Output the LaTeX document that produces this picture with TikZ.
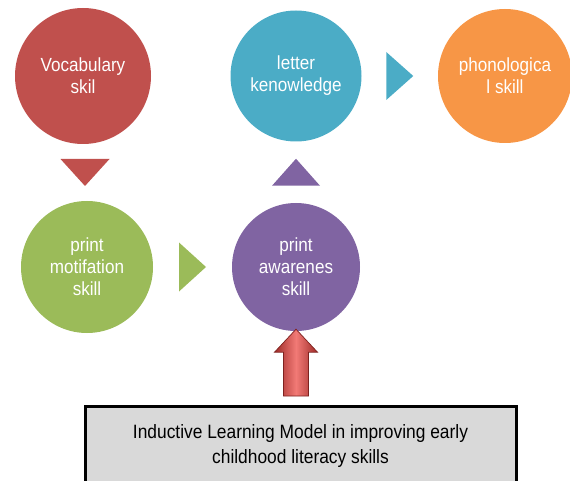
\documentclass[tikz,border=0pt]{standalone}
\usepackage{fontspec}
\setmainfont{Liberation Sans}
\newfontfamily\narrowfont[FakeStretch=0.9]{Liberation Sans}
\usetikzlibrary{calc}
\definecolor{cred}{HTML}{C0504D}
\definecolor{cteal}{HTML}{4BACC6}
\definecolor{corange}{HTML}{F79646}
\definecolor{cgreen}{HTML}{9BBB59}
\definecolor{cpurple}{HTML}{8064A2}
\definecolor{cbox}{HTML}{D9D9D9}
\definecolor{arrdark}{HTML}{9E2A27}
\definecolor{arrlight}{HTML}{F27A76}
\begin{document}
\begin{tikzpicture}[x=1pt,y=-1pt,
  bubble/.style={circle, inner sep=0pt, text=white, align=center,
    font=\narrowfont\fontsize{19}{22}\selectfont},
  infobox/.style={draw=black, line width=3pt, fill=cbox, align=center,
    inner sep=0pt, font=\narrowfont\fontsize{19.3}{25}\selectfont}]
\useasboundingbox (0,0) rectangle (570,481);
\clip (0,0) rectangle (570,481);
% circles
\node[bubble, fill=cred, minimum size=136pt] (voc) at (83,76) {Vocabulary\\skil};
\node[bubble, fill=cteal, minimum size=131pt] (let) at (296,76) {letter\\kenowledge};
\node[bubble, fill=corange, minimum size=134pt] (pho) at (505,76) {phonologica\\l skill};
\node[bubble, fill=cgreen, minimum size=132pt] (mot) at (87,267) {print\\motifation\\skill};
\node[bubble, fill=cpurple, minimum size=128pt] (awa) at (296,267) {print\\awarenes\\skill};
% box
\node[infobox, minimum width=431pt, minimum height=80pt, anchor=north] (box) at (300.5,405)
  {Inductive Learning Model in improving early\\childhood literacy skills};
% triangle connectors
\coordinate (t1) at ($(voc.south)!0.5!(mot.north)$);
\fill[cred] ($(t1)+(-24.5,-13.5)$) -- ($(t1)+(24.5,-13.5)$) -- ($(t1)+(0,13.5)$) -- cycle;
\coordinate (t2) at ($(mot.east)!0.5!(awa.west)$);
\fill[cgreen] ($(t2)+(-13.5,-24.5)$) -- ($(t2)+(13.5,0)$) -- ($(t2)+(-13.5,24.5)$) -- cycle;
\coordinate (t3) at ($(awa.north)!0.5!(let.south)$);
\fill[cpurple] ($(t3)+(-24,13.5)$) -- ($(t3)+(24,13.5)$) -- ($(t3)+(0,-13.5)$) -- cycle;
\coordinate (t4) at ($(let.east)!0.5!(pho.west)$);
\fill[cteal] ($(t4)+(-13.5,-24)$) -- ($(t4)+(13.5,0)$) -- ($(t4)+(-13.5,24)$) -- cycle;
% block arrow from box to awa
\coordinate (tip) at ($(awa.south)+(0,-2)$);
\coordinate (base) at ($(box.north)+(-4.5,-9)$);
\shade[left color=arrdark, right color=arrdark, middle color=arrlight, draw=arrdark!80!black, line width=0.7pt]
  (tip) -- ($(tip)+(21.5,23)$) -- ($(tip)+(12.5,23)$) -- (base -| {$(tip)+(12.5,0)$})
  -- (base -| {$(tip)+(-12.5,0)$}) -- ($(tip)+(-12.5,23)$) -- ($(tip)+(-21.5,23)$) -- cycle;
\end{tikzpicture}
\end{document}
